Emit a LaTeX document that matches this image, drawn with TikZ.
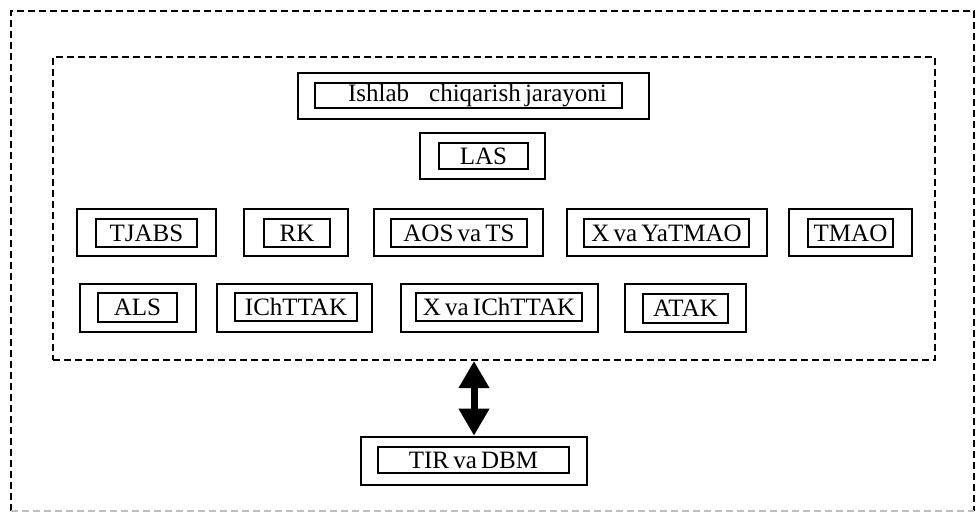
\documentclass[tikz,border=0pt]{standalone}
\usepackage{fontspec}
\setmainfont{Liberation Serif}
\usetikzlibrary{arrows.meta,calc}
\newcommand\myboxfont{\fontsize{25}{28}\selectfont\spaceskip=4.2pt plus 0.5pt\relax}
\begin{document}
\begin{tikzpicture}[x=1pt,y=-1pt,
  boxfont/.style={font=\myboxfont},
  outerbox/.style={draw, line width=2.6pt, inner sep=0pt},
  innerbox/.style={draw, line width=1.3pt, inner sep=0pt, boxfont},
  dashframe/.style={line width=2pt, dash pattern=on 7pt off 4pt, inner sep=0pt},
  bigarrow/.style={line width=7pt, {Triangle[width=29pt,length=27pt]}-{Triangle[width=29pt,length=27pt]}}
]
\useasboundingbox (0,0) rectangle (976,512);
% frames
\node[dashframe, minimum width=961pt, minimum height=498pt] (page) at (492.5,261) {};
\draw[dashframe] (page.south west) -- (page.north west) -- (page.north east) -- (page.south east);
\draw[dashframe, black!25] (page.south west) -- (page.south east);
\node[dashframe, draw, minimum width=882pt, minimum height=303pt] (core) at (494,208.5) {};
% Ishlab chiqarish jarayoni
\node[outerbox, minimum width=351pt, minimum height=46pt] (ishO) at (473.5,96) {};
\node[innerbox, minimum width=307pt, minimum height=25pt] (ish) at (468.5,95.5) {\hspace{18pt}Ishlab\hspace{20pt}chiqarish jarayoni};
% LAS
\node[outerbox, minimum width=125pt, minimum height=46pt] (lasO) at (482.5,156) {};
\node[innerbox, minimum width=89pt, minimum height=26pt] (las) at (483.5,156) {LAS};
% row 1
\node[outerbox, minimum width=139pt, minimum height=47pt] (tjabsO) at (146.5,232.5) {};
\node[innerbox, minimum width=101pt, minimum height=28pt] (tjabs) at (146.5,233) {TJABS};
\node[outerbox, minimum width=104pt, minimum height=47pt] (rkO) at (296,232.5) {};
\node[innerbox, minimum width=66pt, minimum height=28pt] (rk) at (297,233) {RK};
\node[outerbox, minimum width=169pt, minimum height=47pt] (aosO) at (458.5,232.5) {};
\node[innerbox, minimum width=136pt, minimum height=28pt] (aos) at (459,233) {AOS va TS};
\node[outerbox, minimum width=200pt, minimum height=47pt] (xyO) at (667,232.5) {};
\node[innerbox, minimum width=165pt, minimum height=28pt] (xy) at (666.5,233) {X va YaTMAO};
\node[outerbox, minimum width=123pt, minimum height=47pt] (tmaoO) at (850.5,232.5) {};
\node[innerbox, minimum width=85pt, minimum height=28pt] (tmao) at (850.5,233) {};
\node[boxfont, inner sep=0pt] (tmaot) at (tmao.center) {TMAO};
% row 2
\node[outerbox, minimum width=116pt, minimum height=48pt] (alsO) at (138,308) {};
\node[innerbox, minimum width=79pt, minimum height=29pt] (als) at (137.5,307.5) {ALS};
\node[outerbox, minimum width=155pt, minimum height=48pt] (ichO) at (294.5,308) {};
\node[innerbox, minimum width=122pt, minimum height=28pt] (ich) at (296,307) {IChTTAK};
\node[outerbox, minimum width=197pt, minimum height=48pt] (xichO) at (499.5,308) {};
\node[innerbox, minimum width=166pt, minimum height=28pt] (xich) at (499,307) {X va IChTTAK};
\node[outerbox, minimum width=121pt, minimum height=48pt] (atakO) at (685.5,308) {};
\node[innerbox, minimum width=85pt, minimum height=29pt] (atak) at (685.5,308.5) {ATAK};
% TIR va DBM
\node[outerbox, minimum width=226pt, minimum height=48pt] (tirO) at (474,461) {};
\node[innerbox, minimum width=191pt, minimum height=26pt] (tir) at (473.5,460) {TIR va DBM};
% arrow
\draw[bigarrow] (tirO.north |- core.south) -- (tirO.north);
\end{tikzpicture}
\end{document}
